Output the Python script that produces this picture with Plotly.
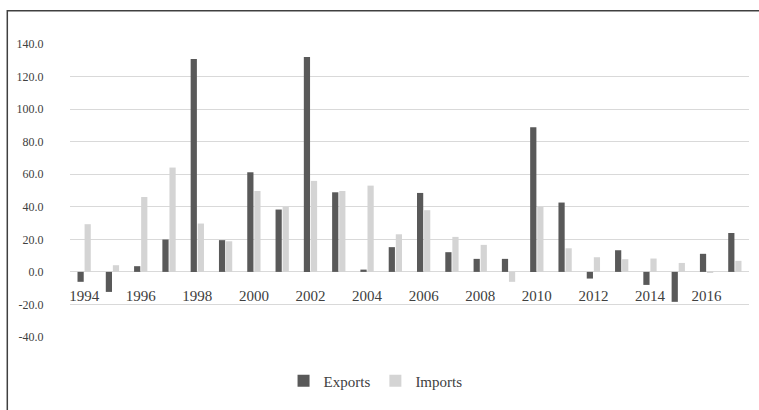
import plotly.graph_objects as go

years = list(range(1994, 2018))
exports = [-6.1, -12.3, 3.5, 19.9, 130.8, 19.5, 61.2, 38.3, 132.0, 48.9, 1.4, 15.2,
           48.5, 12.1, 8.0, 8.0, 88.8, 42.6, -4.1, 13.3, -8.0, -18.4, 11.1, 23.9]
imports = [29.3, 4.1, 46.0, 64.1, 29.7, 18.8, 49.7, 39.9, 55.9, 49.7, 53.0, 23.1,
           37.9, 21.5, 16.6, -6.1, 39.9, 14.5, 9.0, 7.8, 8.2, 5.5, -0.5, 6.8]
y_ticks = [-40, -20, 0, 20, 40, 60, 80, 100, 120, 140]
x_ticks = list(range(1994, 2017, 2))

FONT = "Liberation Serif, serif"
TXT = "#404040"

fig = go.Figure()
fig.add_trace(go.Bar(x=years, y=exports, name="Exports", marker_color="#595959",
                     marker_line_width=0))
fig.add_trace(go.Bar(x=years, y=imports, name="Imports", marker_color="#d4d4d4",
                     marker_line_width=0))

fig.update_layout(
    width=759, height=410,
    margin=dict(l=70, r=10, t=44, b=73),
    paper_bgcolor="white", plot_bgcolor="white",
    barmode="group", bargap=0.5, bargroupgap=0.12,
    font=dict(family=FONT, color=TXT),
    showlegend=True,
    legend=dict(orientation="h", x=0.45, xanchor="center", y=-0.15, yanchor="middle",
                font=dict(size=15, family=FONT, color=TXT), itemwidth=30,
                traceorder="normal"),
    xaxis=dict(range=[1993.5, 2017.5], tickvals=x_ticks, ticktext=[str(v) for v in x_ticks],
               anchor="free", position=40 / 180, showgrid=False, zeroline=False,
               showline=False, ticks="outside", ticklen=0, ticklabelstandoff=10,
               tickfont=dict(size=15, family=FONT, color=TXT)),
    yaxis=dict(range=[-40, 140], tickvals=y_ticks, ticktext=[f"{v:.1f}" for v in y_ticks],
               showgrid=True, gridcolor="#d9d9d9", gridwidth=1,
               zeroline=True, zerolinecolor="#d9d9d9", zerolinewidth=1,
               ticks="outside", ticklen=0, ticklabelstandoff=23,
               tickfont=dict(size=12, family=FONT, color=TXT)),
    shapes=[dict(type="rect", xref="paper", yref="paper",
                 x0=(7.3 - 70) / 679, x1=1.05, y0=-0.3, y1=1 + (44 - 10.7) / 293,
                 line=dict(color="#404040", width=1.5), layer="below")],
)

fig.write_html("out.html")
